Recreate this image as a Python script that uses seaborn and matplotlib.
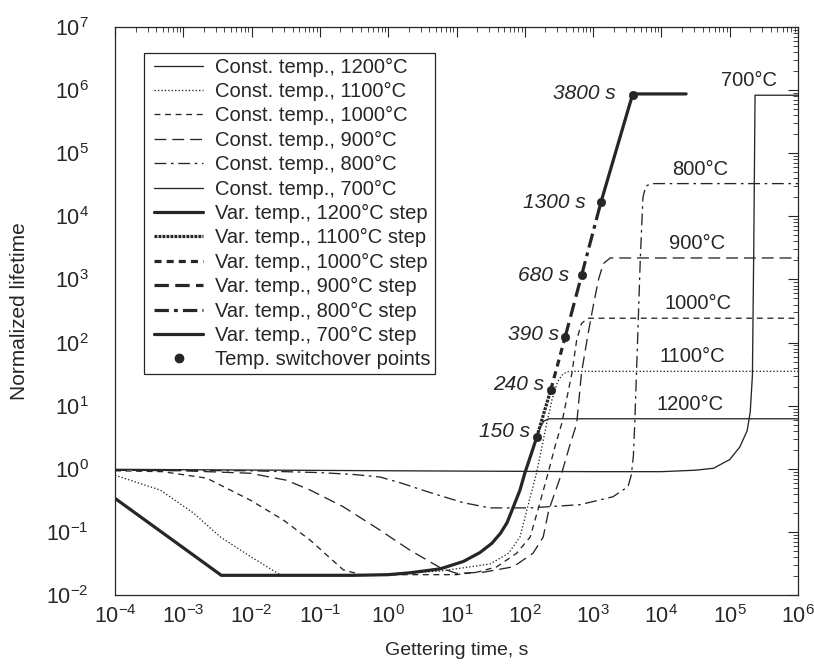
import numpy as np
import pandas as pd
import matplotlib
matplotlib.use('Agg')
import matplotlib.pyplot as plt
import matplotlib.ticker as mticker
from matplotlib.lines import Line2D
from matplotlib.patches import Rectangle
from matplotlib.transforms import IdentityTransform
from matplotlib.legend_handler import HandlerLine2D
import seaborn as sns

# ---------------- data ----------------
# Constant-temperature curves (time in s, normalized lifetime)
const_1200_t = [1e-4, 3.6e-3, 3.2e-2, 0.32, 1.0, 2.1, 5.8, 12.6, 22, 33, 44, 55, 65, 85, 100, 126, 150, 170, 190, 225, 1e6]
const_1200_y = [0.34, 0.0205, 0.0205, 0.0205, 0.021, 0.0225, 0.026, 0.034, 0.047, 0.066, 0.095, 0.14, 0.22, 0.46, 0.85, 1.8, 3.2, 4.6, 5.7, 6.2, 6.2]

const_1100_t = [1e-4, 4.6e-4, 1.4e-3, 3.5e-3, 9.5e-3, 2.6e-2, 1.0, 5.8, 16, 31, 58, 85, 107, 148, 178, 209, 251, 302, 363, 447, 1e6]
const_1100_y = [0.79, 0.46, 0.20, 0.083, 0.041, 0.021, 0.021, 0.024, 0.028, 0.031, 0.046, 0.083, 0.22, 0.85, 2.2, 5.2, 12.6, 24, 32, 35, 35]

const_1000_t = [1e-4, 5e-4, 2.2e-3, 9.5e-3, 2.9e-2, 7.2e-2, 0.22, 0.4, 10, 20, 39, 76, 120, 155, 219, 275, 347, 490, 575, 676, 832, 1e6]
const_1000_y = [0.93, 0.90, 0.71, 0.32, 0.155, 0.074, 0.025, 0.021, 0.021, 0.023, 0.028, 0.046, 0.083, 0.22, 0.85, 2.2, 5.2, 33, 110, 200, 243, 243]

const_900_t = [1e-4, 1e-3, 9.5e-3, 3.2e-2, 7.2e-2, 0.22, 0.68, 2.1, 5.8, 10, 25, 68, 132, 186, 224, 347, 447, 575, 676, 832, 1000, 1200, 1410, 1780, 1e6]
const_900_y = [0.95, 0.93, 0.85, 0.66, 0.46, 0.25, 0.115, 0.051, 0.027, 0.022, 0.023, 0.028, 0.046, 0.083, 0.22, 0.85, 2.2, 5.2, 33, 126, 370, 1000, 1780, 2190, 2190]

const_800_t = [1e-4, 1e-2, 0.1, 0.32, 0.76, 1.5, 4.1, 12.6, 31, 120, 646, 1950, 3240, 3630, 3890, 4070, 4470, 4900, 5370, 5890, 7080, 1e6]
const_800_y = [0.95, 0.93, 0.87, 0.81, 0.74, 0.60, 0.42, 0.29, 0.24, 0.24, 0.27, 0.36, 0.52, 0.8, 1.6, 5.2, 100, 2000, 20000, 30000, 33000, 33000]

const_700_t = [1e-4, 1.0, 1e3, 1e4, 3.2e4, 5.8e4, 1e5, 1.4e5, 1.8e5, 2.0e5, 2.15e5, 2.25e5, 2.35e5, 1e6]
const_700_y = [0.98, 0.93, 0.90, 0.90, 0.95, 1.02, 1.4, 2.2, 4.0, 8.0, 30, 3000, 8.3e5, 8.3e5]

# Variable-temperature schedule (thick line), one segment per temperature step
var_1200_t = [1e-4, 3.6e-3, 3.2e-2, 0.32, 1.0, 2.1, 5.8, 12.6, 22, 33, 44, 55, 65, 85, 100, 126, 150]
var_1200_y = [0.34, 0.0205, 0.0205, 0.0205, 0.021, 0.0225, 0.026, 0.034, 0.047, 0.066, 0.095, 0.14, 0.22, 0.46, 0.85, 1.8, 3.2]
var_1100_t = [150, 240]
var_1100_y = [3.2, 17.8]
var_1000_t = [240, 390]
var_1000_y = [17.8, 123]
var_900_t = [390, 680]
var_900_y = [123, 1175]
var_800_t = [680, 1300]
var_800_y = [1175, 16600]
var_700_t = [1300, 3470, 3800, 4500, 23000]
var_700_y = [16600, 6.2e5, 8.5e5, 8.7e5, 8.7e5]

switch_t = [150, 240, 390, 680, 1300, 3800]
switch_y = [3.2, 17.8, 123, 1175, 16600, 8.5e5]
switch_labels = ['150 s', '240 s', '390 s', '680 s', '1300 s', '3800 s']

temp_labels = ['700°C', '800°C', '900°C', '1000°C', '1100°C', '1200°C']
temp_plateau = [8.3e5, 33000, 2190, 243, 35, 6.2]

legend_labels = ['Const. temp., 1200°C', 'Const. temp., 1100°C', 'Const. temp., 1000°C',
                 'Const. temp., 900°C', 'Const. temp., 800°C', 'Const. temp., 700°C',
                 'Var. temp., 1200°C step', 'Var. temp., 1100°C step', 'Var. temp., 1000°C step',
                 'Var. temp., 900°C step', 'Var. temp., 800°C step', 'Var. temp., 700°C step',
                 'Temp. switchover points']

# ---------------- layout / style (not data) ----------------
temp_label_x = [1.9e5, 3.7e4, 3.3e4, 3.5e4, 2.8e4, 2.6e4]
switch_offsets = [(-4.5, 4), (-4.5, 4), (-4.5, 2), (-9, 0), (-11, 0), (-12, 1)]

sns.set_style('white')
plt.rcParams['font.family'] = ['Liberation Sans', 'DejaVu Sans']
plt.rcParams['mathtext.fontset'] = 'custom'
plt.rcParams['mathtext.rm'] = 'Liberation Sans'
plt.rcParams['mathtext.it'] = 'Liberation Sans:italic'
plt.rcParams['mathtext.default'] = 'regular'

INK = '#262626'

fig = plt.figure(figsize=(8.14, 6.67), dpi=100)
ax = fig.add_axes([115 / 814, 72 / 667, 683 / 814, 568 / 667])
ax.set_xscale('log')
ax.set_yscale('log')


def draw(t, y, label, ls, lw, z):
    df = pd.DataFrame({'t': t, 'y': y})
    sns.lineplot(data=df, x='t', y='y', ax=ax, color=INK, linestyle=ls, linewidth=lw,
                 estimator=None, sort=False, legend=False, zorder=z)
    line = ax.lines[-1]
    line.set_label(label)
    return line


thin = 0.95
thick = 2.3
h = []
h.append(draw(const_1200_t, const_1200_y, legend_labels[0], '-', thin, 2))
h.append(draw(const_1100_t, const_1100_y, legend_labels[1], (0, (1, 1.6)), thin, 2))
h.append(draw(const_1000_t, const_1000_y, legend_labels[2], (0, (4.5, 3.5)), thin, 2))
h.append(draw(const_900_t, const_900_y, legend_labels[3], (0, (9, 4.5)), thin, 2))
h.append(draw(const_800_t, const_800_y, legend_labels[4], (0, (9, 3.5, 2, 3.5)), thin, 2))
h.append(draw(const_700_t, const_700_y, legend_labels[5], '-', thin, 2))
h.append(draw(var_1200_t, var_1200_y, legend_labels[6], '-', thick, 3))
h.append(draw(var_1100_t, var_1100_y, legend_labels[7], (0, (0.9, 0.35)), thick, 3))
h.append(draw(var_1000_t, var_1000_y, legend_labels[8], (0, (2.2, 1.6)), thick, 3))
h.append(draw(var_900_t, var_900_y, legend_labels[9], (0, (4.5, 2.0)), thick, 3))
h.append(draw(var_800_t, var_800_y, legend_labels[10], (0, (4.5, 1.6, 1.2, 1.6)), thick, 3))
h.append(draw(var_700_t, var_700_y, legend_labels[11], '-', thick, 3))

sns.scatterplot(x=switch_t, y=switch_y, ax=ax, s=36, color=INK, edgecolor=INK,
                linewidth=0.5, zorder=5, legend=False)
dot_handle = Line2D([], [], ls='none', marker='o', ms=6, color=INK, label=legend_labels[12])
h.append(dot_handle)

for lbl, t, y, off in zip(switch_labels, switch_t, switch_y, switch_offsets):
    ax.annotate(lbl, (t, y), xytext=off, textcoords='offset points', ha='right', va='center',
                fontsize=15, style='italic', color=INK)

for lbl, t, y in zip(temp_labels, temp_label_x, temp_plateau):
    ax.annotate(lbl, (t, y), xytext=(0, 10.5), textcoords='offset points', ha='center',
                va='center', fontsize=14.5, color=INK)

ax.set_xlim(1e-4, 1e6)
ax.set_ylim(1e-2, 1e7)
for axis in (ax.xaxis, ax.yaxis):
    axis.set_major_locator(mticker.LogLocator(base=10, numticks=40))
    axis.set_minor_locator(mticker.LogLocator(base=10, subs=np.arange(2, 10), numticks=400))
    axis.set_minor_formatter(mticker.NullFormatter())
    axis.get_offset_text().set_visible(False)
ax.tick_params(which='both', direction='in', top=True, right=True, color=INK, labelcolor=INK,
               labelsize=15.5)
ax.tick_params(which='major', length=7, width=0.8)
ax.tick_params(which='minor', length=3.5, width=0.6)
ax.tick_params(axis='y', which='major', pad=19)
ax.tick_params(axis='x', which='major', pad=7)
for sp in ax.spines.values():
    sp.set_color(INK)
    sp.set_linewidth(0.9)

ax.set_xlabel('Gettering time, s', fontsize=14, color=INK)
ax.set_ylabel('Normalized lifetime', fontsize=15, color=INK)
ax.xaxis.set_label_coords(0.5, -0.082)
ax.yaxis.set_label_coords(-0.126, 0.5)


class RightDot(HandlerLine2D):
    def get_xdata(self, legend, xdescent, ydescent, width, height, fontsize):
        xd, xm = super().get_xdata(legend, xdescent, ydescent, width, height, fontsize)
        return xd, np.array([-xdescent + 0.9 * width])


leg = ax.legend(handles=h, loc='upper left', bbox_to_anchor=((150 - 115) / 683, 0.954),
                borderaxespad=0, frameon=False, fontsize=14.5,
                handlelength=2.4, handletextpad=0.6, labelspacing=0.265, borderpad=0.22,
                handler_map={dot_handle: RightDot(numpoints=1)})
for t in leg.get_texts():
    t.set_color(INK)

# frame around the legend, with a wider left margin as in the reference
fig.canvas.draw()
bb = leg.get_window_extent(fig.canvas.get_renderer())
frame = Rectangle((bb.x0 - 6, bb.y0), bb.width + 6, bb.height, transform=IdentityTransform(),
                  fill=False, edgecolor=INK, linewidth=0.9, zorder=6)
fig.add_artist(frame)

fig.savefig('out.png', dpi=100, facecolor='white')
